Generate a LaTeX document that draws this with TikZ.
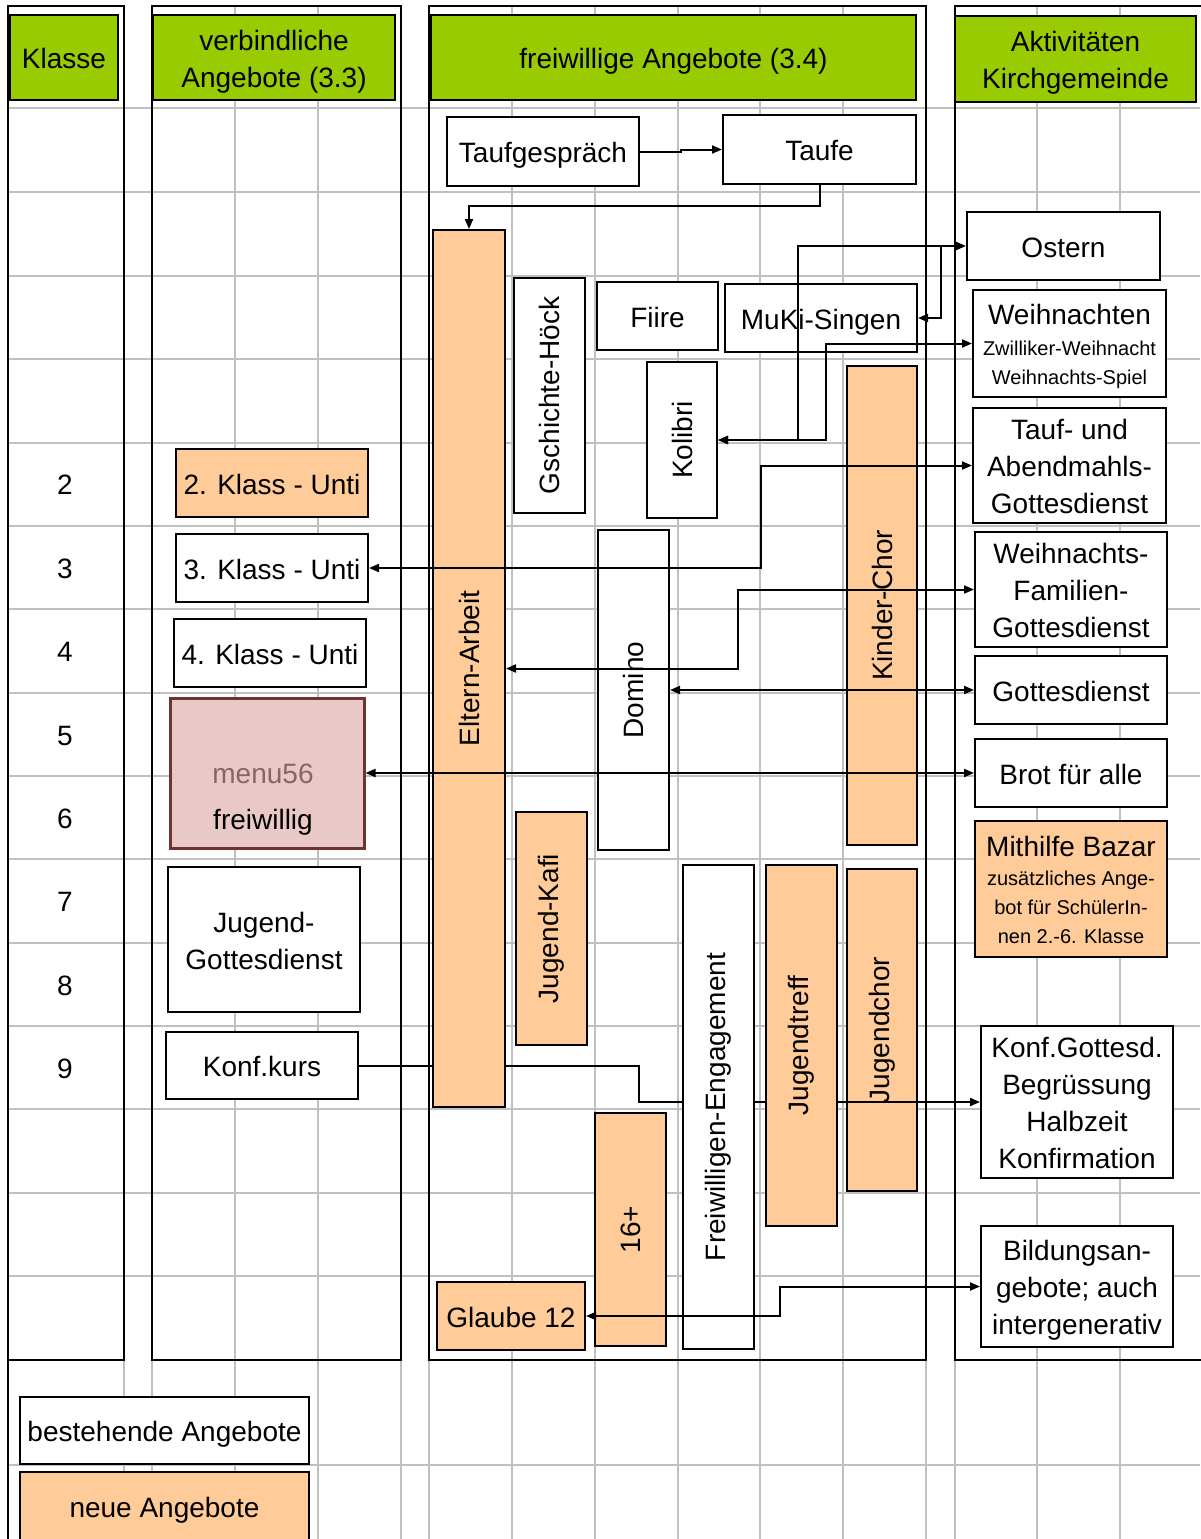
\documentclass[tikz,border=0pt]{standalone}
\usepackage{fontspec}
\setmainfont{Liberation Sans}
\usepackage{graphicx}
\usetikzlibrary{arrows.meta}
\definecolor{headgreen}{HTML}{99CC00}
\definecolor{neworange}{HTML}{FFCC99}
\definecolor{menupink}{HTML}{EBC8C8}
\definecolor{menuborder}{HTML}{6E3434}
\definecolor{menutext}{HTML}{866565}
\definecolor{gridgray}{HTML}{C0C0C0}
\newcommand{\bigtxt}{\fontsize{28}{37}\selectfont}
\newcommand{\smalltxt}{\fontsize{20}{29}\selectfont}
\newcommand{\topstrut}{\rule{0pt}{28pt}}

\begin{document}
\begin{tikzpicture}[
  x=1pt, y=-1pt,
  >={Triangle[length=10pt,width=8pt]},
  every node/.style={font=\bigtxt},
  textline/.style={text depth=6pt, execute at begin node={\topstrut}},
  header/.style={draw, line width=1.5pt, fill=headgreen, align=center, inner sep=0pt, textline},
  vbox/.style={draw, line width=2pt, fill=white, align=center, inner sep=0pt},
  vnewbox/.style={vbox, fill=neworange},
  offer/.style={vbox, textline},
  newoffer/.style={vnewbox, textline},
  boxsize/.style 2 args={minimum width=#1, minimum height=#2},
  link/.style={line width=2pt}
]
\useasboundingbox (0,0) rectangle (1200,1539);
% Grid
\foreach \x in {8,124,152,235,318,401,429,512,595,678,760,843,926,955,1037,1120} {
  \draw[gridgray, line width=1.8pt] (\x,6) -- (\x,1539);
}
\foreach \y in {108,192,276,359,443,526,609,693,776,859,943,1026,1109,1193,1276,1465} {
  \draw[gridgray, line width=1.8pt] (8,\y) -- (1200,\y);
}
% Column frames
\foreach \l/\r in {8/124, 152/401, 429/926, 955/1215} {
  \draw[line width=2.5pt] (\l,6) rectangle (\r,1360);
}
\draw[line width=2.5pt] (8,1360) -- (8,1539);
% Headers
\node[header, boxsize={108}{85}] (hklasse) at (64,57.5) {Klasse};
\node[header, boxsize={242}{85}] (hverb) at (274,57.5) {\topstrut verbindliche\\Angebote (3.3)};
\node[header, boxsize={485}{85}] (hfrei) at (673.5,57.5) {freiwillige Angebote (3.4)};
\node[header, boxsize={241}{86}] (hakt) at (1075.5,59) {\topstrut Aktivitäten\\Kirchgemeinde};
% Klasse
\foreach \n/\y in {2/485, 3/569, 4/652, 5/736, 6/819, 7/902, 8/986, 9/1069} {
  \node (row\n) at (65,\y) {\n};
}
% verbindliche Angebote
\node[newoffer, boxsize={192}{68}] (klass2) at (272,483) {2. Klass - Unti};
\node[offer, boxsize={192}{68}] (klass3) at (272,568) {3. Klass - Unti};
\node[offer, boxsize={192}{68}] (klass4) at (270,653) {4. Klass - Unti};
\node[vbox, fill=menupink, draw=menuborder, line width=3pt, boxsize={194}{150}] (menu) at (267,773) {};
\node[align=center] (menutxt) at (263,800) {{\color{menutext}menu56}\\[9pt]freiwillig};
\node[offer, boxsize={192}{145}] (jgd) at (264,939.5) {\topstrut Jugend-\\Gottesdienst};
\node[offer, boxsize={192}{67}] (konf) at (262,1065.5) {Konf.kurs};
% Aktivitaeten Kirchgemeinde
\node[offer, boxsize={193}{68}] (ostern) at (1063.5,246) {Ostern};
\node[offer, font=\smalltxt, boxsize={193}{107}] (weihn) at (1069.5,343.5) {\topstrut{\bigtxt Weihnachten}\\[2pt]Zwilliker-Weihnacht\\Weihnachts-Spiel};
\node[offer, boxsize={193}{115}] (tauf) at (1069.5,465.5) {\topstrut Tauf- und\\Abendmahls-\\Gottesdienst};
\node[offer, boxsize={192}{115}] (wfg) at (1071,589.5) {\topstrut Weihnachts-\\Familien-\\Gottesdienst};
\node[offer, boxsize={192}{68}] (gd) at (1071,690) {Gottesdienst};
\node[offer, boxsize={192}{68}] (brot) at (1071,773) {Brot für alle};
\node[newoffer, font=\smalltxt, boxsize={192}{136}] (bazar) at (1071,889) {\topstrut{\bigtxt Mithilfe Bazar}\\zusätzliches Ange-\\bot für SchülerIn-\\nen 2.-6. Klasse};
\node[offer, boxsize={192}{152}] (konfg) at (1077,1102) {\topstrut Konf.Gottesd.\\Begrüssung\\Halbzeit\\Konfirmation};
\node[offer, boxsize={192}{121}] (bildung) at (1077,1286.5) {\topstrut Bildungsan-\\gebote; auch\\intergenerativ};
% freiwillige Angebote
\node[offer, boxsize={192}{69}] (taufg) at (543,151.5) {Taufgespräch};
\node[offer, boxsize={193}{69}] (taufe) at (819.5,149.5) {Taufe};
\node[vbox, boxsize={71}{235}] (gsch) at (549.5,395.5) {\rotatebox{90}{Gschichte-Höck}};
\node[offer, boxsize={121}{68}] (fiire) at (657.5,316) {Fiire};
\node[offer, boxsize={192}{68}] (muki) at (821,318) {MuKi-Singen};
\node[vbox, boxsize={70}{156}] (kolibri) at (682,440) {\rotatebox{90}{Kolibri}};
\node[vnewbox, boxsize={70}{479}] (kchor) at (882,605.5) {\rotatebox{90}{Kinder-Chor}};
\node[vbox, boxsize={71}{320}] (domino) at (633.5,690) {\rotatebox{90}{Domino}};
\node[vnewbox, boxsize={71}{233}] (jkafi) at (551.5,928.5) {\rotatebox{90}{Jugend-Kafi}};
\node[vnewbox, boxsize={70}{322}] (jchor) at (882,1030) {\rotatebox{90}{Jugendchor}};
\node[vnewbox, boxsize={71}{233}] (sechzehn) at (630.5,1229.5) {\rotatebox{90}{16+}};
\node[newoffer, boxsize={148}{68}] (glaube) at (511,1316) {Glaube 12};
% Konf.kurs line runs behind the next three boxes
\draw[link, ->] (konf.east) -| ([xshift=-341pt]konfg.west) -- (konfg.west);
\node[vnewbox, boxsize={72}{877}] (eltern) at (469,668.5) {\rotatebox{90}{Eltern-Arbeit}};
\node[vbox, boxsize={71}{484}] (freiw) at (718.5,1107) {\rotatebox{90}{Freiwilligen-Engagement}};
\node[vnewbox, boxsize={71}{361}] (jtreff) at (801.5,1045.5) {\rotatebox{90}{Jugendtreff}};
% Connectors
\draw[link, ->] (taufg.east) -- ++(41,0) |- (taufe.west);
\draw[link, ->] (taufe.south) -- ++(0,21) -| (eltern.north);
\draw[link, <->] (kolibri.east) -| ([xshift=-168pt]ostern.west) -- (ostern.west);
\draw[link, <->] (kolibri.east) -| ([xshift=-146pt]weihn.west) -- (weihn.west);
\draw[link, ->] ([xshift=-25pt]ostern.west) |- (muki.east);
\draw[link, <->] (klass3.east) -| ([xshift=-211pt]tauf.west) -- (tauf.west);
\draw[link, <->] (eltern.east) -| ([xshift=-236pt]wfg.west) -- (wfg.west);
\draw[link, <->] (domino.east) -- (gd.west);
\draw[link, <->] (menu.east) -- (brot.west);
\draw[link, <->] (glaube.east) -| ([xshift=-200pt]bildung.west) -- (bildung.west);
% Legend
\node[offer, boxsize={289}{67}] (bestehend) at (164.5,1430.5) {bestehende Angebote};
\node[newoffer, boxsize={289}{68}] (neu) at (164.5,1506) {neue Angebote};
\end{tikzpicture}
\end{document}
